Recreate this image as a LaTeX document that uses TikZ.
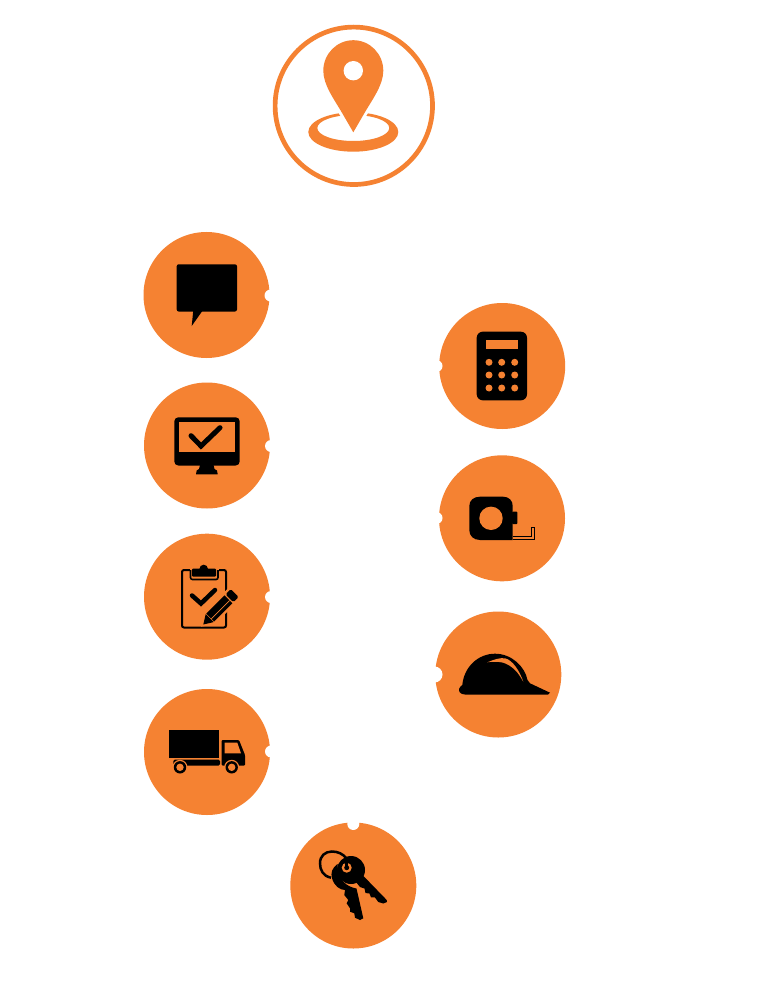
\documentclass[tikz,border=0pt]{standalone}
\definecolor{brand}{HTML}{F58232}
\tikzset{
  disc/.style={fill=brand,draw=none},
  notch/.style={fill=white,draw=none},
  ink/.style={fill=black,draw=none},
  cut/.style={fill=brand,draw=none},
  tick/.style={draw=black,line cap=round,line join=miter,fill=none},
}
\begin{document}
\begin{tikzpicture}[x=1pt,y=-1pt]
\useasboundingbox (0,0) rectangle (763,984);
\fill[white] (0,0) rectangle (763,984);

% location badge
\draw[brand,line width=4.7pt] (353.8,105.8) circle[radius=78.7];
\fill[brand,even odd rule] (353.3,132) ellipse[x radius=45,y radius=19.7]
  (353.3,128) ellipse[x radius=36,y radius=13];
\path[fill=brand,draw=white,line width=6pt,line join=round]
  (353.3,132.3) -- (342.3,113.3) .. controls (334,99) and (323.3,85) .. (323.3,70.7)
  arc[start angle=180,end angle=0,radius=30]
  .. controls (383.3,85) and (372.6,99) .. (364.3,113.3) -- cycle;
\fill[brand] (353.3,132.3) -- (342.3,113.3) .. controls (334,99) and (323.3,85) .. (323.3,70.7)
  .. controls (323.3,54) and (336.7,40.2) .. (353.3,40.2)
  .. controls (370,40.2) and (383.3,54) .. (383.3,70.7)
  .. controls (383.3,85) and (372.6,99) .. (364.3,113.3) -- cycle;
\fill[white] (353.3,70.7) circle[radius=9.7];

% discs
\foreach \cx/\cy/\nx/\ny/\nr in {
  206.5/295/270.5/295.5/6,
  207/445.5/271/446/6,
  207/596.7/271/597/6,
  207/752/271/751.5/6,
  502.2/366/436.5/366/6,
  502/518.3/436.5/518/6,
  498.3/674.5/434.5/674.5/8,
  353.3/885.5/353.3/824/6}{
  \fill[disc] (\cx,\cy) circle[radius=63];
  \fill[notch] (\nx,\ny) circle[radius=\nr];
}

% speech bubble
\fill[ink,rounded corners=2pt] (176.7,264.3) rectangle (237,311.5);
\fill[ink] (193.3,310) -- (191.7,326) -- (203,310) -- cycle;

% monitor
\fill[ink,rounded corners=4pt] (174.3,417.3) rectangle (239.7,465.5);
\fill[cut] (179,421.7) rectangle (235.3,452.3);
\draw[tick,line cap=round,line width=5pt] (191,435.7) -- (201,446) -- (220,427.7);
\fill[ink] (200,465) -- (213.5,465) -- (214.5,469) -- (217,470.5) -- (217.7,474.3)
  -- (196,474.3) -- (196.7,470.5) -- (199,469) -- cycle;

% clipboard
\draw[black,line width=2pt,rounded corners=2pt] (182,570) rectangle (226,627.5);
\fill[cut] (190,566) rectangle (218.5,582);
\fill[ink,rounded corners=1pt] (192,568.5) rectangle (216,576.5);
\fill[ink] (203.7,569) circle[radius=4.3];
\draw[black,line width=1.6pt,rounded corners=2pt] (190.5,570) -- (190.5,579.5) -- (218,579.5) -- (218,570);
\draw[tick,line width=4.5pt] (192,595.5) -- (201,603.5) -- (215,590);
\begin{scope}[shift={(203.3,624.5)},rotate=45]
  \fill[cut] (-3,-0) -- (8,-8) -- (47,-8) -- (47,8) -- (8,8) -- cycle;
  \fill[ink] (0,0) -- (9,-5.6) -- (9,5.6) -- cycle;
  \fill[ink] (9.8,-5.6) rectangle (35.5,5.6);
  \draw[brand,line width=.7pt] (9.8,1.6) -- (35.5,1.6);
  \fill[ink,rounded corners=1.5pt] (37,-5.6) rectangle (44.5,5.6);
\end{scope}

% truck
\fill[ink] (169.3,730.3) rectangle (219.3,758.3);
\fill[ink,rounded corners=1.5pt] (173.3,759.5) rectangle (220,765.7);
\fill[ink,rounded corners=1pt] (221.7,740) -- (239,740) -- (245,755) -- (245,765.5) -- (221.7,765.5) -- cycle;
\fill[cut] (224.5,742.7) -- (237.3,742.7) -- (241,753.3) -- (224.5,753.3) -- cycle;
\foreach \wx in {180,231.7}{
  \fill[cut] (\wx,767.3) circle[radius=7.5];
  \fill[ink] (\wx,767.3) circle[radius=6.2];
  \fill[cut] (\wx,767.3) circle[radius=3.7];
}

% calculator
\fill[ink,rounded corners=6pt] (476.7,331.7) rectangle (527,400.3);
\fill[cut] (486,340.3) rectangle (517.7,348.7);
\foreach \bx in {489,501.7,514.7}{
  \foreach \by in {362.3,375,388}{
    \fill[cut] (\bx,\by) circle[radius=3.5];
  }
}

% tape measure
\fill[ink] (480,496.7) -- (503,496.7) .. controls (509,496.7) and (512.7,500.5) .. (512.7,506)
  -- (512.7,540) -- (480,540)
  .. controls (473.5,540) and (469.3,535.8) .. (469.3,530) -- (469.3,506)
  .. controls (469.3,500.5) and (473.5,496.7) .. (480,496.7) -- cycle;
\fill[ink,rounded corners=.8pt] (512,511.7) rectangle (517.3,524);
\fill[cut] (491,518.3) circle[radius=11.7];
\draw[black,line width=.8pt] (512.7,536.7) -- (531,536.7) -- (531,527.5) -- (534.3,527.5)
  -- (534.3,539.6) -- (512.7,539.6);

% hard hat
\fill[ink] (465,694.5) .. controls (460,694.5) and (458.5,691) .. (459,689)
  .. controls (459.5,687) and (461,686) .. (462.3,685)
  .. controls (464,667) and (478,653.7) .. (495,653.7)
  .. controls (512,653.7) and (525,667) .. (527.5,680)
  -- (530,683.3) -- (550,692.7) -- (548,694.5) -- cycle;
\fill[cut] (487.3,662.3) .. controls (494,659.5) and (500,657.5) .. (505,658.3)
  .. controls (513,660) and (520,672) .. (523.3,681.7)
  .. controls (520,676) and (518,673) .. (515,670)
  .. controls (511,666) and (507,664) .. (503.3,662.7)
  .. controls (498,661.5) and (492,661.5) .. (487.3,662.3) -- cycle;

% keys
\draw[black,line width=2.5pt] (331,877.7) .. controls (323,876) and (320,870) .. (320,863.3)
  .. controls (320,856) and (325,851.5) .. (332,851.5)
  .. controls (338,851.5) and (343,854) .. (346,858);
\fill[ink] (337.5,864) .. controls (332,868) and (330.5,873) .. (332,878)
  .. controls (334,886) and (340,890) .. (345,890)
  -- (344.3,895) -- (348.3,900) -- (346.7,903.3) -- (350,908.3) -- (350,911.7)
  -- (354.3,913.3) -- (355,917.7) -- (360,920) -- (363.3,918.3) -- (356.5,888.5)
  .. controls (348,887) and (337,881) .. (337.5,864) -- cycle;
\fill[ink] (351,870) circle[radius=14];
\fill[ink] (362,874.5) -- (386.7,900) -- (387,902) -- (383.3,903.5) -- (378.3,902)
  -- (375,897.5) -- (371,897.3) -- (369.5,893.5) -- (365.5,893) -- (364.5,888.5)
  -- (360,887) -- (356,882) -- cycle;
\fill[cut] (346.7,867.7) circle[radius=5];
\fill[ink] (346.7,867.7) circle[radius=2.5];
\fill[ink] (345.4,861.5) rectangle (348,867.5);
\end{tikzpicture}
\end{document}
